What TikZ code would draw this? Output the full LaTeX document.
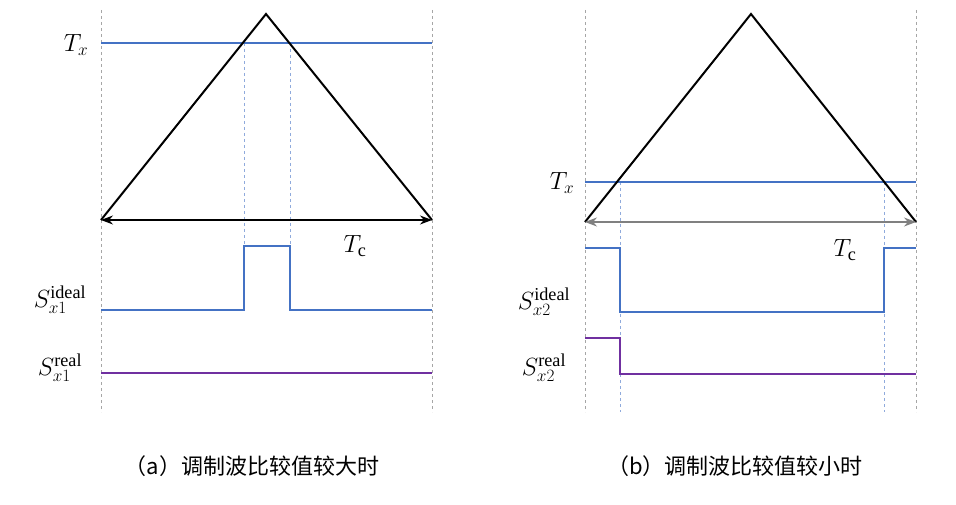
\documentclass[tikz,border=0pt]{standalone}
\usepackage{fontspec}
\setmainfont{Liberation Serif}
\newfontfamily\cjk{Noto Sans CJK SC}
\usetikzlibrary{arrows.meta}
\definecolor{sigblue}{RGB}{68,114,196}
\definecolor{sigpurple}{RGB}{112,48,160}
\begin{document}
\begin{tikzpicture}[x=1pt,y=-1pt,
  frame/.style={gray!70,dashed,line width=1pt},
  guide/.style={sigblue!60,dashed,line width=1pt},
  tri/.style={black,line width=2pt},
  level/.style={sigblue,line width=2pt},
  realsig/.style={sigpurple,line width=2pt},
  span/.style={{Stealth[length=12pt,width=9pt]}-{Stealth[length=12pt,width=9pt]},line width=1.2pt},
  lab/.style={font=\fontsize{26}{28}\selectfont,inner sep=1pt},
  captext/.style={font=\cjk\fontsize{22}{24}\selectfont}]
\useasboundingbox (0,0) rectangle (956,505);
% panel (a)
\coordinate (aL) at (101,220); \coordinate (aR) at (432,220); \coordinate (aTop) at (266,14);
\draw[frame] (101,10) -- (101,412); \draw[frame] (432,10) -- (432,412);
\draw[guide] (244,43) -- (244,310); \draw[guide] (290,43) -- (290,310);
\draw[level] (101,43) -- (432,43);
\draw[tri] (aL) -- (aTop) -- (aR);
\draw[span] (aL) -- (aR);
\draw[level] (101,310) -- (244,310) -- (244,246) -- (290,246) -- (290,310) -- (432,310);
\draw[realsig] (101,373) -- (432,373);
\node[lab] (aTx) at (76,45) {$T_x$};
\node[lab] (aTc) at (355,246) {$T_{\mathrm{c}}$};
\node[lab] (aSi) at (60,300) {$S_{x1}^{\mathrm{ideal}}$};
\node[lab] (aSr) at (60,368) {$S_{x1}^{\mathrm{real}}$};
\node[captext] (capa) at (252,466) {（a）调制波比较值较大时};
% panel (b)
\coordinate (bL) at (585,222); \coordinate (bR) at (916,222); \coordinate (bTop) at (751,14);
\draw[frame] (585,10) -- (585,412); \draw[frame] (916,10) -- (916,412);
\draw[guide] (620,182) -- (620,412); \draw[guide] (884,182) -- (884,412);
\draw[level] (585,182) -- (916,182);
\draw[tri] (bL) -- (bTop) -- (bR);
\draw[span,gray] (bL) -- (bR);
\draw[level] (585,248) -- (620,248) -- (620,312) -- (884,312) -- (884,248) -- (916,248);
\draw[realsig] (585,338) -- (620,338) -- (620,374) -- (916,374);
\node[lab] (bTx) at (562,183) {$T_x$};
\node[lab] (bTc) at (845,250) {$T_{\mathrm{c}}$};
\node[lab] (bSi) at (544,302) {$S_{x2}^{\mathrm{ideal}}$};
\node[lab] (bSr) at (544,368) {$S_{x2}^{\mathrm{real}}$};
\node[captext] (capb) at (735,466) {（b）调制波比较值较小时};
\end{tikzpicture}
\end{document}
